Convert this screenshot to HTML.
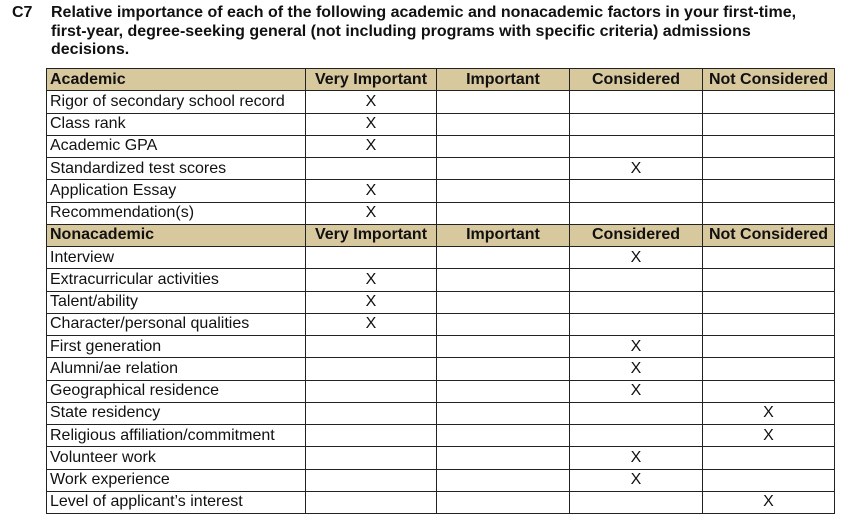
<!DOCTYPE html>
<html><head><meta charset="utf-8"><style>
body{margin:0;background:#fff;width:854px;height:527px;overflow:hidden;font-family:"Liberation Sans",sans-serif;color:#111}
.t{position:absolute;left:12px;top:4px;font-weight:bold;font-size:16px;line-height:18.5px}
.t .n{position:absolute;left:0;top:0}
.t .b{position:absolute;left:39px;top:0;width:800px}
table{position:absolute;left:46px;top:68px;border-collapse:collapse;table-layout:fixed;font-size:16px}
td{border:1.5px solid #222;height:21.25px;padding:0 0 0 3px;line-height:20px;white-space:nowrap;overflow:hidden}
td.c{text-align:center;padding:0}
tr.h td{background:#d8c89e;font-weight:bold}
</style></head><body>
<div class="t"><span class="n">C7</span><div class="b">Relative importance of each of the following academic and nonacademic factors in your first-time,<br>first-year, degree-seeking general (not including programs with specific criteria) admissions<br>decisions.</div></div>
<table>
<colgroup><col style="width:259px"><col style="width:131px"><col style="width:133px"><col style="width:133px"><col style="width:132px"></colgroup>
<tr class="h"><td>Academic</td><td class="c">Very Important</td><td class="c">Important</td><td class="c">Considered</td><td class="c">Not Considered</td></tr>
<tr><td>Rigor of secondary school record</td><td class="c">X</td><td></td><td></td><td></td></tr>
<tr><td>Class rank</td><td class="c">X</td><td></td><td></td><td></td></tr>
<tr><td>Academic GPA</td><td class="c">X</td><td></td><td></td><td></td></tr>
<tr><td>Standardized test scores</td><td></td><td></td><td class="c">X</td><td></td></tr>
<tr><td>Application Essay</td><td class="c">X</td><td></td><td></td><td></td></tr>
<tr><td>Recommendation(s)</td><td class="c">X</td><td></td><td></td><td></td></tr>
<tr class="h"><td>Nonacademic</td><td class="c">Very Important</td><td class="c">Important</td><td class="c">Considered</td><td class="c">Not Considered</td></tr>
<tr><td>Interview</td><td></td><td></td><td class="c">X</td><td></td></tr>
<tr><td>Extracurricular activities</td><td class="c">X</td><td></td><td></td><td></td></tr>
<tr><td>Talent/ability</td><td class="c">X</td><td></td><td></td><td></td></tr>
<tr><td>Character/personal qualities</td><td class="c">X</td><td></td><td></td><td></td></tr>
<tr><td>First generation</td><td></td><td></td><td class="c">X</td><td></td></tr>
<tr><td>Alumni/ae relation</td><td></td><td></td><td class="c">X</td><td></td></tr>
<tr><td>Geographical residence</td><td></td><td></td><td class="c">X</td><td></td></tr>
<tr><td>State residency</td><td></td><td></td><td></td><td class="c">X</td></tr>
<tr><td>Religious affiliation/commitment</td><td></td><td></td><td></td><td class="c">X</td></tr>
<tr><td>Volunteer work</td><td></td><td></td><td class="c">X</td><td></td></tr>
<tr><td>Work experience</td><td></td><td></td><td class="c">X</td><td></td></tr>
<tr><td>Level of applicant’s interest</td><td></td><td></td><td></td><td class="c">X</td></tr>
</table>
</body></html>
